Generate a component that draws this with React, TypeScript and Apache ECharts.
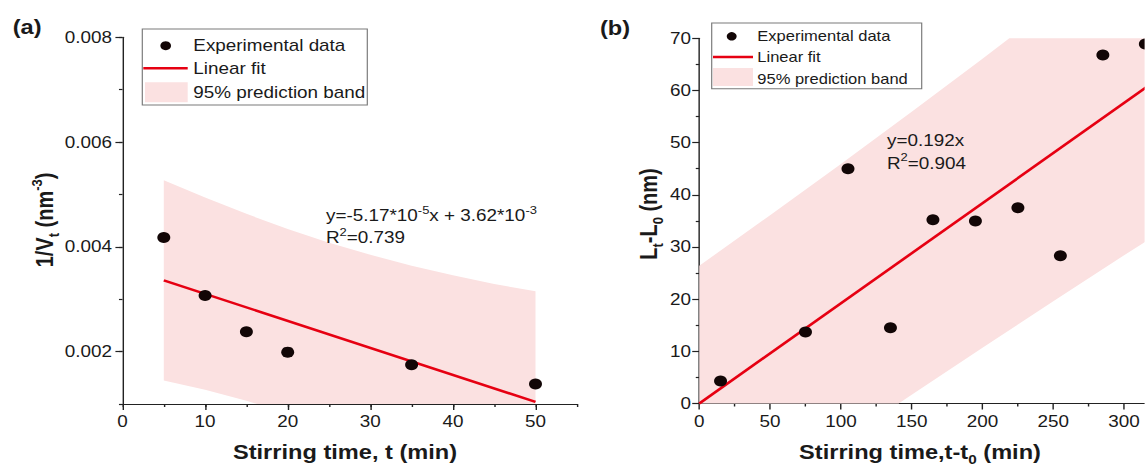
import React, { useEffect, useRef } from "react";
import * as echarts from "echarts";

// ---------- data ----------
const leftX = [5, 10, 15, 20, 35, 50];
const leftY = [0.00418, 0.00307, 0.00238, 0.00199, 0.00175, 0.00138];
const leftFitX = [5, 50];
const leftFitY = [0.00336, 0.00104];
const leftBandX = [5, 10, 15, 20, 25, 30, 35, 40, 45, 50];
const leftBandUpper = [0.00527, 0.00494, 0.00463, 0.00434, 0.00408, 0.00385, 0.00364, 0.00346, 0.00329, 0.00315];
const leftBandLower = [0.00145, 0.00127, 0.00106, 0.00083, 0.00057, 0.00029, -0.00002, -0.00036, -0.00071, -0.00108];
const leftXTicks = [0, 10, 20, 30, 40, 50];
const leftYTicks = [0.002, 0.004, 0.006, 0.008];

const rightX = [15, 75, 105, 135, 165, 195, 225, 255, 285, 315];
const rightY = [4.3, 13.7, 45.0, 14.5, 35.2, 35.0, 37.5, 28.3, 66.8, 68.9];
const rightFitX = [0, 350];
const rightFitY = [0, 67.2];
const rightBandX = [0, 50, 100, 150, 200, 250, 300, 350];
const rightBandUpper = [26.4, 36.1, 45.9, 55.9, 66.1, 76.4, 86.8, 97.4];
const rightBandLower = [-26.4, -16.9, -7.5, 1.7, 10.7, 19.6, 28.4, 37.0];
const rightXLastLabel = 300;

const legendLabels = ["Experimental data", "Linear fit", "95% prediction band"];

// ---------- styling ----------
const S = 1.18; // horizontal stretch of the reference figure
const H = 470;
const W = 1145 / S;
const px = (x: number) => x / S;
const FONT = "'Liberation Sans', Arial, sans-serif";
const TXT = "#1a1a1a";
const AX = "#222";
const RED = "#e60012";
const PINK = "#fbe1e1";
const DOT = "#120606";

const pair = (xs: number[], ys: number[]) => xs.map((x, i) => [x, ys[i]]);

const axisFont = { fontFamily: FONT, fontSize: 16, color: TXT };
const lineSt = { color: AX, width: 1.2 };

const richDefs = (fs: number, bold = false) => ({
  n: { fontSize: fs, fontFamily: FONT, fontWeight: bold ? "bold" : "normal", fill: TXT, lineHeight: Math.round(fs * 1.35) },
  sup: { fontSize: Math.round(fs * 0.66), fontFamily: FONT, fontWeight: bold ? "bold" : "normal", fill: TXT, lineHeight: Math.round(fs * 0.66), verticalAlign: "top" },
  sub: { fontSize: Math.round(fs * 0.66), fontFamily: FONT, fontWeight: bold ? "bold" : "normal", fill: TXT, lineHeight: Math.round(fs * 0.66), verticalAlign: "bottom" },
});

function richText(x: number, y: number, text: string, fs: number, opts: any = {}) {
  return {
    type: "text",
    x,
    y,
    z: 100,
    rotation: opts.rotation || 0,
    style: {
      text,
      align: opts.align || "left",
      verticalAlign: "middle",
      rich: richDefs(fs, opts.bold),
    },
  };
}

function plainText(x: number, y: number, text: string, fs: number, bold = false, align = "left") {
  return {
    type: "text",
    x,
    y,
    z: 100,
    style: { text, fontSize: fs, fontFamily: FONT, fontWeight: bold ? "bold" : "normal", fill: TXT, align, verticalAlign: "middle" },
  };
}

function legend(box: number[], dot: number[], line: number[], patch: number[], textX: number, rows: number[], fs: number) {
  return [
    { type: "rect", z: 100, shape: { x: px(box[0]), y: box[1], width: px(box[2] - box[0]), height: box[3] - box[1] }, style: { fill: "#fff", stroke: "#7a7a7a", lineWidth: 1 } },
    { type: "circle", z: 101, shape: { cx: px(dot[0]), cy: dot[1], r: dot[2] }, style: { fill: DOT } },
    { type: "line", z: 101, shape: { x1: px(line[0]), y1: line[2], x2: px(line[1]), y2: line[2] }, style: { stroke: RED, lineWidth: 2.5 } },
    { type: "rect", z: 101, shape: { x: px(patch[0]), y: patch[1], width: px(patch[2] - patch[0]), height: patch[3] - patch[1] }, style: { fill: PINK } },
    ...legendLabels.map((t, i) => plainText(px(textX), rows[i], t, fs)),
  ];
}

// Sutherland-Hodgman clip of a polygon to a rectangle
function clipPoly(pts: number[][], x0: number, y0: number, x1: number, y1: number) {
  const clipEdge = (input: number[][], inside: (p: number[]) => boolean, inter: (a: number[], b: number[]) => number[]) => {
    const out: number[][] = [];
    for (let i = 0; i < input.length; i++) {
      const cur = input[i];
      const prev = input[(i + input.length - 1) % input.length];
      if (inside(cur)) {
        if (!inside(prev)) out.push(inter(prev, cur));
        out.push(cur);
      } else if (inside(prev)) {
        out.push(inter(prev, cur));
      }
    }
    return out;
  };
  const atX = (c: number) => (a: number[], b: number[]) => [c, a[1] + ((c - a[0]) / (b[0] - a[0])) * (b[1] - a[1])];
  const atY = (c: number) => (a: number[], b: number[]) => [a[0] + ((c - a[1]) / (b[1] - a[1])) * (b[0] - a[0]), c];
  let p = pts;
  p = clipEdge(p, (q) => q[0] >= x0, atX(x0));
  if (p.length) p = clipEdge(p, (q) => q[0] <= x1, atX(x1));
  if (p.length) p = clipEdge(p, (q) => q[1] >= y0, atY(y0));
  if (p.length) p = clipEdge(p, (q) => q[1] <= y1, atY(y1));
  return p;
}

function bandSeries(xi: number, yi: number, xs: number[], lo: number[], hi: number[]) {
  return {
    type: "custom",
    xAxisIndex: xi,
    yAxisIndex: yi,
    silent: true,
    z: 1,
    data: xs.map((x, i) => [x, lo[i], hi[i]]),
    encode: { x: 0, y: [1, 2] },
    renderItem: (params: any, api: any) => {
      if (params.dataIndex !== 0) return null;
      const top = xs.map((x, i) => api.coord([x, hi[i]]));
      const bot = xs.map((x, i) => api.coord([x, lo[i]])).reverse();
      const cs = params.coordSys;
      const pts = clipPoly([...top, ...bot], cs.x, cs.y, cs.x + cs.width, cs.y + cs.height);
      return { type: "polygon", shape: { points: pts }, style: { fill: PINK } };
    },
  };
}

export default function App() {
  const ref = useRef<HTMLDivElement>(null);

  useEffect(() => {
    document.body.style.margin = "0";
    const chart = echarts.init(ref.current as HTMLDivElement, null, { renderer: "svg", width: W, height: H });
    const option: any = {
      animation: false,
      backgroundColor: "#fff",
      grid: [
        { left: px(122.5), top: 37.3, width: px(454.3), height: 366.7, outerBoundsMode: "none", containLabel: false },
        { left: px(699.3), top: 38.3, width: px(495.6), height: 365.2, outerBoundsMode: "none", containLabel: false },
      ],
      xAxis: [
        {
          gridIndex: 0, type: "value", min: 0, max: 55, interval: 5,
          axisLine: { onZero: false, lineStyle: lineSt },
          axisTick: { length: 3, lineStyle: lineSt },
          axisLabel: { ...axisFont, margin: 10, formatter: (v: number) => (leftXTicks.includes(v) ? String(v) : "") },
          splitLine: { show: false },
        },
        {
          gridIndex: 0, type: "value", position: "bottom", min: 0, max: 55, interval: 5,
          axisLine: { show: false, onZero: false },
          axisTick: { length: 6, lineStyle: lineSt, customValues: leftXTicks },
          axisLabel: { show: false },
          splitLine: { show: false },
        },
        {
          gridIndex: 1, type: "value", min: 0, max: 350, interval: 50,
          axisLine: { onZero: false, lineStyle: lineSt },
          axisTick: { length: 6, lineStyle: lineSt },
          minorTick: { show: true, splitNumber: 2, length: 3, lineStyle: lineSt },
          axisLabel: { ...axisFont, margin: 10, formatter: (v: number) => (v > rightXLastLabel ? "" : String(v)) },
          splitLine: { show: false },
        },
      ],
      yAxis: [
        {
          gridIndex: 0, type: "value", min: 0.001, max: 0.008, interval: 0.001,
          axisLine: { show: true, onZero: false, lineStyle: lineSt },
          axisTick: { show: true, length: 3, lineStyle: lineSt },
          axisLabel: {
            ...axisFont, margin: 9,
            formatter: (v: number) => (Math.round(v * 1000) % 2 === 0 ? v.toFixed(3) : ""),
          },
          splitLine: { show: false },
        },
        {
          gridIndex: 0, type: "value", position: "left", min: 0.001, max: 0.008, interval: 0.001,
          axisLine: { show: false, onZero: false },
          axisTick: { show: true, length: 6, lineStyle: lineSt, customValues: leftYTicks },
          axisLabel: { show: false },
          splitLine: { show: false },
        },
        {
          gridIndex: 1, type: "value", min: 0, max: 70, interval: 10,
          axisLine: { show: true, onZero: false, lineStyle: lineSt },
          axisTick: { show: true, length: 6, lineStyle: lineSt },
          minorTick: { show: true, splitNumber: 2, length: 3, lineStyle: lineSt },
          axisLabel: { ...axisFont, margin: 7 },
          splitLine: { show: false },
        },
      ],
      series: [
        bandSeries(0, 0, leftBandX, leftBandLower, leftBandUpper),
        {
          type: "line", xAxisIndex: 0, yAxisIndex: 0, data: pair(leftFitX, leftFitY), symbol: "none",
          lineStyle: { color: RED, width: 2.5 }, z: 2, clip: true,
        },
        {
          type: "scatter", xAxisIndex: 0, yAxisIndex: 0, data: pair(leftX, leftY), symbol: "circle", symbolSize: 11,
          itemStyle: { color: DOT, opacity: 1 }, z: 3,
        },
        bandSeries(2, 2, rightBandX, rightBandLower, rightBandUpper),
        {
          type: "line", xAxisIndex: 2, yAxisIndex: 2, data: pair(rightFitX, rightFitY), symbol: "none",
          lineStyle: { color: RED, width: 2.5 }, z: 2, clip: true,
        },
        {
          type: "scatter", xAxisIndex: 2, yAxisIndex: 2, data: pair(rightX, rightY), symbol: "circle", symbolSize: 11,
          itemStyle: { color: DOT, opacity: 1 }, z: 3,
        },
      ],
      graphic: [
        plainText(px(12.7), 27, "(a)", 20, true),
        plainText(px(600), 28, "(b)", 20, true),
        ...legend([142.3, 29, 367.3, 105], [165.7, 45.7, 4.5], [143.3, 187.7, 68.3], [145, 82.3, 187.7, 102.3], 193.3, [45.7, 69, 92.7], 16),
        ...legend([711.7, 23, 921.7, 88.7], [731.7, 36.3, 4.2], [713, 753, 57], [713, 68, 753, 86], 757.3, [36.3, 57, 79], 14),
        richText(px(326), 216, "{n|y=-5.17*10}{sup|-5}{n|x + 3.62*10}{sup|-3}", 16),
        richText(px(326), 238, "{n|R}{sup|2}{n|=0.739}", 16),
        richText(px(887), 140.6, "{n|y=0.192x}", 16),
        richText(px(887), 163.3, "{n|R}{sup|2}{n|=0.904}", 16),
        plainText(px(345), 452, "Stirring time, t (min)", 20, true, "center"),
        richText(px(920), 452, "{n|Stirring time,t-t}{sub|0}{n| (min)}", 20, { bold: true, align: "center" }),
        richText(px(45), 220, "{n|1/V}{sub|t}{n| (nm}{sup|-3}{n|)}", 20, { bold: true, align: "center", rotation: Math.PI / 2 }),
        richText(px(649), 214, "{n|L}{sub|t}{n|-L}{sub|0}{n| (nm)}", 20, { bold: true, align: "center", rotation: Math.PI / 2 }),
      ],
    };
    chart.setOption(option);
    return () => chart.dispose();
  }, []);

  return (
    <div
      ref={ref}
      style={{
        position: "absolute",
        left: 0,
        top: 0,
        width: W + "px",
        height: H + "px",
        transform: `scaleX(${S})`,
        transformOrigin: "0 0",
        background: "#fff",
      }}
    />
  );
}
